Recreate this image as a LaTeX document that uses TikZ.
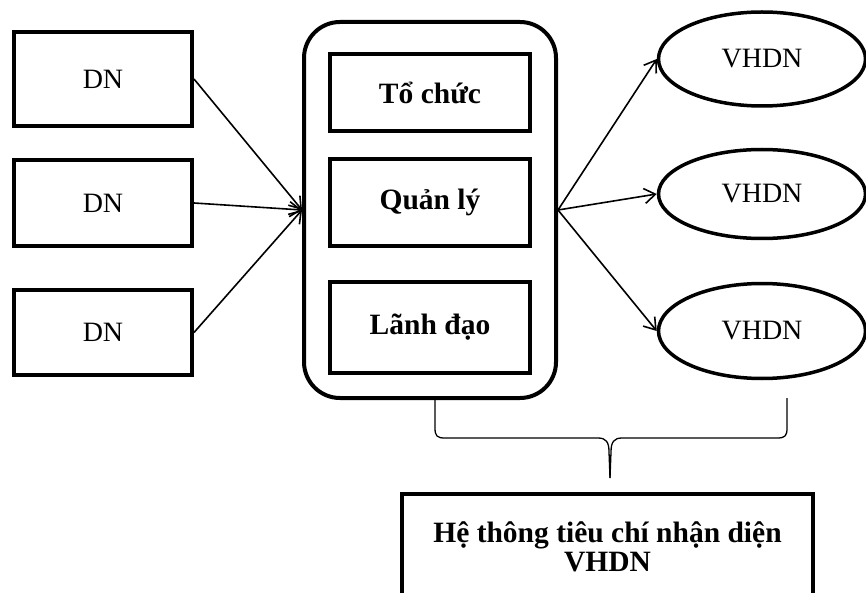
\documentclass[tikz,border=0pt]{standalone}
\usepackage{fontspec}
\setmainfont{Liberation Serif}
\usetikzlibrary{arrows.meta,shapes.geometric}

\tikzset{
  dnbox/.style={draw, line width=4pt, minimum width=178pt, inner sep=0pt,
    font=\fontsize{28}{32}\selectfont},
  innerbox/.style={draw, line width=4pt, minimum width=200pt, inner sep=0pt,
    font=\bfseries\fontsize{29.5}{33}\selectfont},
  outerbox/.style={draw, line width=4pt, rounded corners=36pt,
    minimum width=252pt, minimum height=376pt, inner sep=0pt},
  vhdn/.style={draw, ellipse, line width=3.5pt, minimum width=207pt, inner sep=0pt,
    font=\fontsize{28}{32}\selectfont},
  sysbox/.style={draw, line width=4pt, minimum width=411pt, minimum height=106pt,
    inner sep=0pt, align=center, font=\bfseries\fontsize{29.5}{29.5}\selectfont},
  link/.style={line width=1.6pt, -{Straight Barb[length=11pt, width=15pt, line width=1.6pt]}},
  bracket/.style={line width=1.3pt, line join=round}
}

\begin{document}
\begin{tikzpicture}[x=1pt, y=-1pt]
  \useasboundingbox (0,0) rectangle (866,593);
  \clip (0,0) rectangle (866,593);

  % enterprises on the left
  \node[dnbox, minimum height=94pt] (dn1) at (103,79)    {DN};
  \node[dnbox, minimum height=86pt] (dn2) at (103,203)   {DN};
  \node[dnbox, minimum height=85pt] (dn3) at (103,332.5) {DN};

  % central group of functions
  \node[outerbox] (core) at (430,210) {};
  \node[innerbox, minimum height=77pt] (org)  at (430,92.5)  {Tổ chức};
  \node[innerbox, minimum height=87pt] (mgmt) at (430,202.5) {Quản lý};
  \node[innerbox, minimum height=91pt] (lead) at (430,327.5) {Lãnh đạo};

  % resulting corporate cultures
  \node[vhdn, minimum height=94pt] (v1) at (762,59)  {VHDN};
  \node[vhdn, minimum height=89pt] (v2) at (762,194) {VHDN};
  \node[vhdn, minimum height=95pt] (v3) at (762,331) {VHDN};

  % connectors
  \draw[link] (dn1.east) -- (core.west);
  \draw[link] (dn2.east) -- (core.west);
  \draw[link] (dn3.east) -- (core.west);
  \draw[link] (core.east) -- (v1.west);
  \draw[link] (core.east) -- (v2.west);
  \draw[link] (core.east) -- (v3.west);

  % brace gathering the group and the cultures
  \coordinate (bl) at (435,398);
  \coordinate (br) at (787,398);
  \coordinate (btip) at (610,478);
  \draw[bracket] (bl) -- (435,428) .. controls (435,436) and (437,438) .. (445,438)
    -- (598,438) .. controls (606,438) and (609,442) .. (609,452) -- (btip);
  \draw[bracket] (br) -- (787,428) .. controls (787,436) and (785,438) .. (777,438)
    -- (622,438) .. controls (614,438) and (611,442) .. (611,452) -- (btip);

  % identification criteria
  \node[sysbox] (sys) at (607.5,547) {Hệ thông tiêu chí nhận diện\\[-1pt]VHDN};
\end{tikzpicture}
\end{document}
